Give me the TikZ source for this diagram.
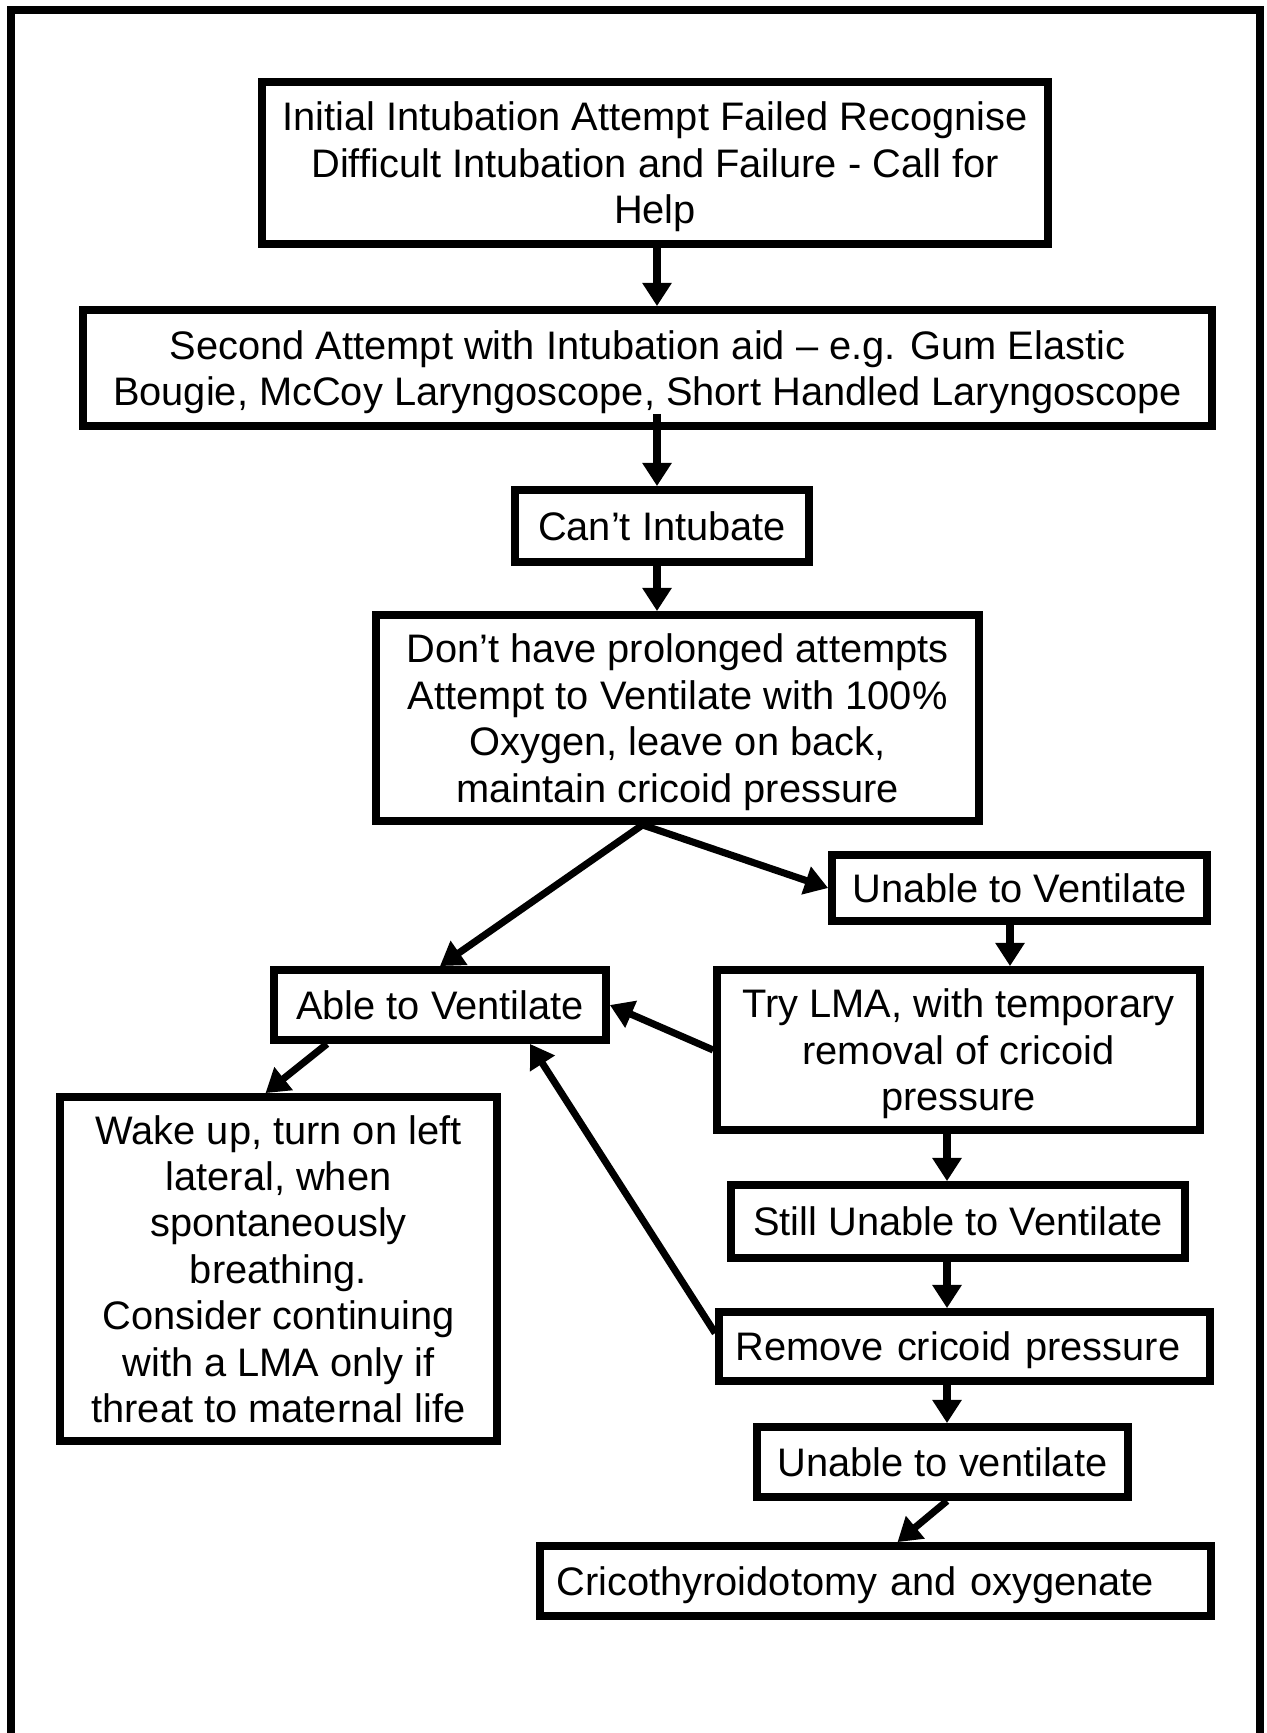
\documentclass[tikz,border=0pt]{standalone}
\usepackage{fontspec}
\setmainfont{Liberation Sans}
\usepackage{tikz}
\usetikzlibrary{arrows.meta, calc}

\begin{document}
\begin{tikzpicture}[x=0.4522pt, y=-0.4522pt,
		box/.style={draw, line width=3.5pt, align=center, inner sep=4pt, text depth=0pt, font=\fontsize{18pt}{21pt}\selectfont},
		lbox/.style={box, align=left, inner xsep=7.5pt, text width=#1},
		arr/.style={line width=3.2pt, -{Triangle[length=10.5pt, width=12.7pt]}},
		frame/.style={line width=3.6pt}]

		\useasboundingbox (0,0) rectangle (1266,1733);
		\draw[frame] (11,1733) -- (11,10) -- (1260,10) -- (1260,1733);

		\coordinate (cspine) at (657,0);
		\coordinate (uspine) at (1010,0);
		\coordinate (rspine) at (947,0);

		\node[box, minimum width=355.4pt, minimum height=73.3pt] (init) at (655,163) {Initial Intubation Attempt Failed Recognise\\ Difficult Intubation and Failure - Call for\\ Help};
		\node[box, minimum width=510.5pt, minimum height=52.5pt] (second) at (647.5,368) {Second Attempt with Intubation aid – e.g. Gum Elastic\\ Bougie, McCoy Laryngoscope, Short Handled Laryngoscope};
		\draw[arr] (init.south -| cspine) -- (second.north -| cspine);

		\node[box, minimum width=132.9pt, minimum height=32.6pt] (cant) at (662,526) {Can’t Intubate};
		\draw[arr] ($(second.south -| cspine)+(0,-16)$) -- (cant.north -| cspine);

		\node[box, minimum width=272.7pt, minimum height=93.2pt] (dont) at (677.5,718) {Don’t have prolonged attempts\\ Attempt to Ventilate with 100\%\\ Oxygen, leave on back,\\ maintain cricoid pressure};
		\draw[arr] (cant.south -| cspine) -- (dont.north -| cspine);

%		two ways out of the attempt to ventilate
		\coordinate (fork) at ($(dont.south)+(-35,0)$);
		\node[box, minimum width=150.1pt, minimum height=31.7pt] (able) at (440,1005) {Able to Ventilate};
		\draw[arr] (fork) -- (able.north);
		\node[box, minimum width=169.6pt, minimum height=29.8pt] (unable-vent) at (1019.5,888) {Unable to Ventilate};
		\draw[arr] (fork) -- (unable-vent.west);

		\node[box, minimum width=218.4pt, minimum height=72.4pt] (try-lma) at (958.5,1050) {Try LMA, with temporary\\ removal of cricoid\\ pressure};
		\draw[arr] (unable-vent.south -| uspine) -- (try-lma.north -| uspine);
		\draw[arr] (try-lma.west) -- (able.east);

		\node[box, minimum width=197.6pt, minimum height=155.6pt] (wake) at (278.5,1269) {Wake up, turn on left\\ lateral, when\\ spontaneously\\ breathing.\\ Consider continuing\\ with a LMA only if\\ threat to maternal life};
		\draw[arr] ($(able.south)+(-113,0)$) -- ($(wake.north)+(-13,0)$);

		\node[box, minimum width=205.3pt, minimum height=33pt] (still-unable) at (958,1221.5) {Still Unable to Ventilate};
		\draw[arr] (try-lma.south -| rspine) -- (still-unable.north -| rspine);

		\node[lbox=207pt, minimum height=31.2pt] (remove-cp) at (964.5,1346.5) {Remove cricoid pressure};
		\draw[arr] (still-unable.south -| rspine) -- (remove-cp.north -| rspine);
		\draw[arr] ($(remove-cp.north west)+(0,25)$) -- ($(able.south)+(90,0)$);

		\node[box, minimum width=167.8pt, minimum height=31.7pt] (unable-vent2) at (942.5,1462) {Unable to ventilate};
		\draw[arr] (remove-cp.south -| rspine) -- (unable-vent2.north -| rspine);

		\node[lbox=288.4pt, minimum height=31.7pt] (crico) at (875.5,1581) {Cricothyroidotomy and oxygenate};
		\draw[arr] (unable-vent2.south -| rspine) -- ($(crico.north)+(22,0)$);

\end{tikzpicture}
\end{document}
